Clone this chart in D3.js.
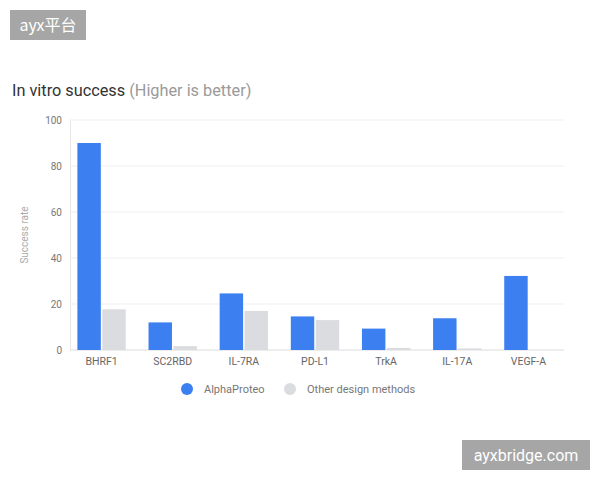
<!DOCTYPE html>
<html><head><meta charset="utf-8">
<script src="https://cdn.jsdelivr.net/npm/d3@7"></script>
<style>body{margin:0;background:#fff}svg{display:block}</style>
</head><body>
<svg id="c" width="600" height="480"></svg>
<script>
const categories = ["BHRF1","SC2RBD","IL-7RA","PD-L1","TrkA","IL-17A","VEGF-A"];
const seriesNames = ["AlphaProteo","Other design methods"];
const alphaProteo = [90, 12, 24.6, 14.6, 9.3, 13.8, 32.2];
const otherMethods = [17.7, 1.7, 17, 13, 0.9, 0.7, 0];
const yTicks = [0, 20, 40, 60, 80, 100];
const colors = ["#3b7ff0", "#dadcdf"];

const svg = d3.select("#c");
const font = "Roboto, 'Open Sans', sans-serif";

// watermarks
svg.append("rect").attr("x",10).attr("y",10).attr("width",76).attr("height",30).attr("fill","#a6a6a6");
svg.append("text").attr("x",48).attr("y",31).attr("text-anchor","middle").attr("fill","#fff")
  .attr("font-family","'Noto Sans CJK SC', sans-serif").attr("font-size",16).text("ayx平台");
svg.append("rect").attr("x",462).attr("y",440).attr("width",128).attr("height",30).attr("fill","#a6a6a6");
svg.append("text").attr("x",526).attr("y",461).attr("text-anchor","middle").attr("fill","#fff")
  .attr("font-family",font).attr("font-size",16).text("ayxbridge.com");

// title
const t = svg.append("text").attr("x",12).attr("y",96).attr("font-family",font).attr("font-size",16.3);
t.append("tspan").attr("fill","#333").text("In vitro success ");
t.append("tspan").attr("fill","#9a9a9a").text("(Higher is better)");

const y = d3.scaleLinear().domain([0,100]).range([350,120]);
const x = d3.scaleBand().domain(categories).range([66,564]).paddingInner(0.32).paddingOuter(0.16);
const x1 = d3.scaleBand().domain(seriesNames).range([0, x.bandwidth()]).paddingInner(0.06);

// grid
svg.append("g").selectAll("line").data(yTicks).join("line")
  .attr("x1",70).attr("x2",564).attr("y1",d=>y(d)).attr("y2",d=>y(d))
  .attr("stroke", d=> d===0 ? "#dcdcdc" : "#efefef").attr("stroke-width",1);
svg.append("line").attr("x1",70.5).attr("x2",70.5).attr("y1",y(100)).attr("y2",y(0)).attr("stroke","#e8e8e8");

// y axis
const ya = svg.append("g").attr("transform","translate(62,0)")
  .call(d3.axisLeft(y).tickValues(yTicks).tickSize(0).tickPadding(0));
ya.select(".domain").remove();
ya.selectAll("text").attr("font-family",font).attr("font-size",10).attr("fill","#777");

svg.append("text").attr("transform","translate(28,235) rotate(-90)").attr("text-anchor","middle")
  .attr("font-family",font).attr("font-size",10).attr("fill","#aaa").text("Success rate");

// bars
const series = [alphaProteo, otherMethods];
const g = svg.append("g");
categories.forEach((c,i)=>{
  series.forEach((s,j)=>{
    if (s[i] <= 0) return;
    g.append("rect").attr("x", x(c)+x1(seriesNames[j])).attr("width", x1.bandwidth())
      .attr("y", y(s[i])).attr("height", y(0)-y(s[i])).attr("fill", colors[j]);
  });
});

// x axis
const xa = svg.append("g").attr("transform","translate(0,356)")
  .call(d3.axisBottom(x).tickSize(0).tickPadding(0));
xa.select(".domain").remove();
xa.selectAll("text").attr("font-family",font).attr("font-size",10.5).attr("fill","#666").attr("dy","0.9em");

// legend
const legX = [187, 290];
seriesNames.forEach((n,j)=>{
  svg.append("circle").attr("cx",legX[j]).attr("cy",389).attr("r",6).attr("fill",colors[j]);
  svg.append("text").attr("x",legX[j]+17).attr("y",393).attr("font-family",font).attr("font-size",11)
    .attr("fill","#777").text(n);
});
</script>
</body></html>
